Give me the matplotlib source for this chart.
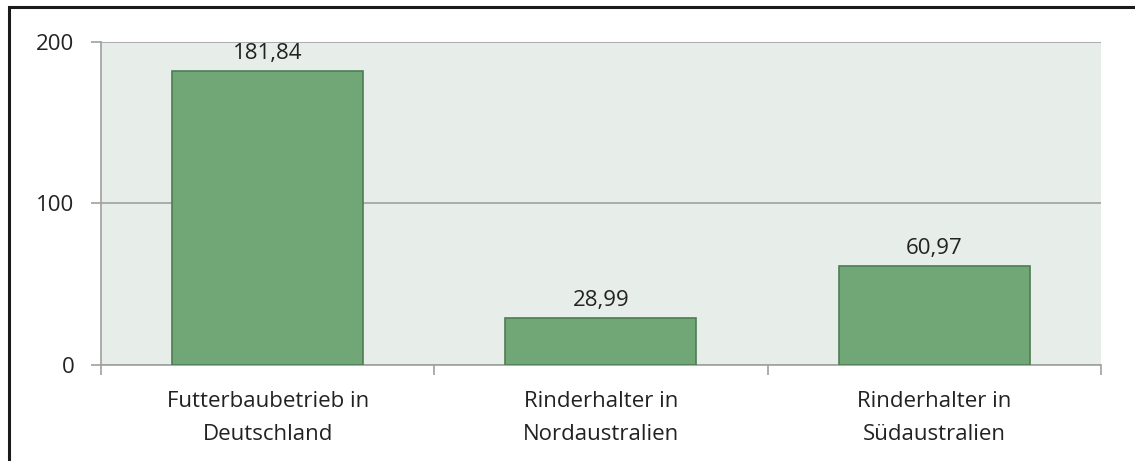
import matplotlib.pyplot as plt
from matplotlib.patches import Rectangle

categories = ['Futterbaubetrieb in\nDeutschland', 'Rinderhalter in\nNordaustralien', 'Rinderhalter in\nSüdaustralien']
values = [181.84, 28.99, 60.97]
y_ticks = [0, 100, 200]

plt.rcParams['font.family'] = ['Open Sans', 'DejaVu Sans']

W, H = 1135, 461
fig = plt.figure(figsize=(W / 100, H / 100), dpi=100)
ax = fig.add_axes([101 / W, 1 - 365 / H, 1000 / W, (365 - 41.5) / H])

ax.set_facecolor('#E7EEEA')
x = range(len(values))
bars = ax.bar(x, values, width=0.573, color='#71A676', edgecolor='#4E7D52', linewidth=1.2, zorder=3)

# value labels above bars, German decimal comma
for b, v in zip(bars, values):
    ax.annotate(f'{v:.2f}'.replace('.', ','), (b.get_x() + b.get_width() / 2, v),
                xytext=(0, 5), textcoords='offset points',
                ha='center', va='bottom', fontsize=16, color='#222222')

ax.set_xlim(-0.5, len(values) - 0.5)
ax.set_ylim(0, 200)
ax.set_yticks(y_ticks)
ax.set_yticklabels([str(t) for t in y_ticks])
ax.yaxis.grid(True, color='#A0A0A0', linewidth=1.2, zorder=1)
ax.set_axisbelow(True)

# category ticks sit on boundaries, labels in the middle
ax.set_xticks([-0.5, 0.5, 1.5, 2.5])
ax.set_xticklabels([])
ax.set_xticks(list(x), minor=True)
ax.set_xticklabels(categories, minor=True, fontsize=16, color='#222222', linespacing=1.75)
ax.tick_params(axis='x', which='minor', length=0, pad=19)
ax.tick_params(axis='x', which='major', length=7, width=1.2, color='#A0A0A0', direction='out')
ax.tick_params(axis='y', length=7, width=1.2, color='#A0A0A0', labelsize=16, labelcolor='#222222', pad=12)

for s in ['top', 'right']:
    ax.spines[s].set_visible(False)
for s in ['left', 'bottom']:
    ax.spines[s].set_color('#A0A0A0')
    ax.spines[s].set_linewidth(1.2)

# outer frame
fig.patches.append(Rectangle((9 / W, -0.05), 1.1, 1 - 7 / H + 0.05, transform=fig.transFigure,
                             fill=False, edgecolor='#1A1A1A', linewidth=2.2))

fig.savefig('out.png', dpi=100)
